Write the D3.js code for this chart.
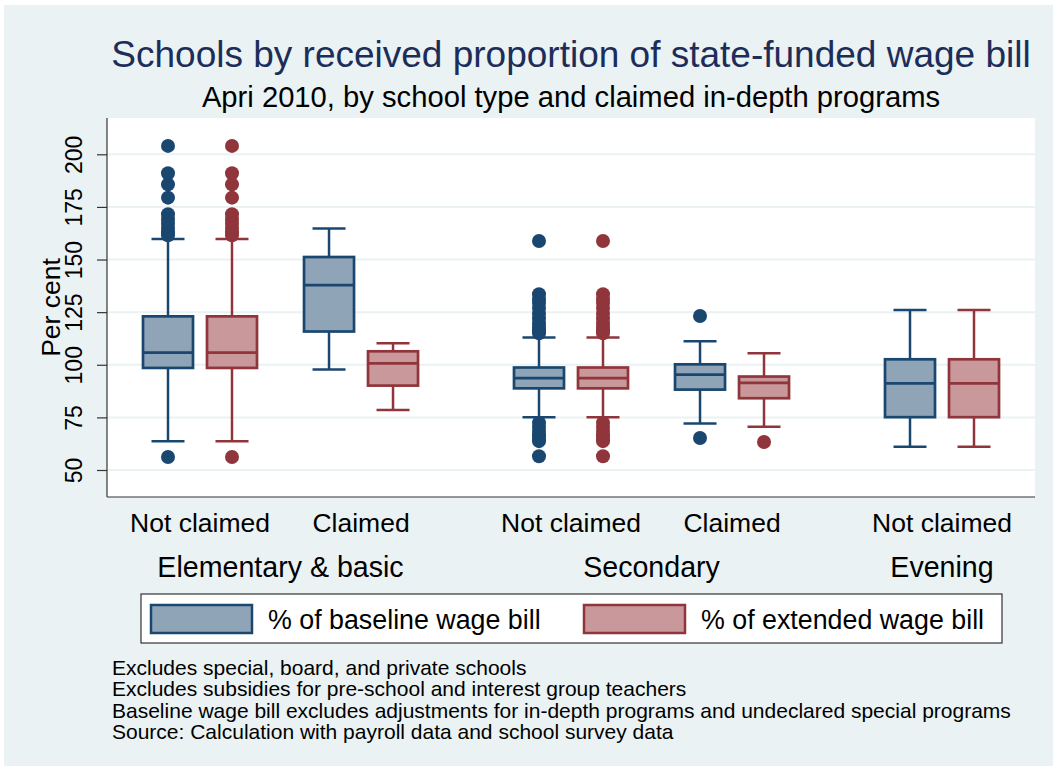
<!DOCTYPE html>
<html>
<head>
<meta charset="utf-8">
<title>Schools by received proportion of state-funded wage bill</title>
<script src="https://cdn.jsdelivr.net/npm/d3@7"></script>
<style>
    html, body { margin: 0; padding: 0; background: #ffffff; }
    svg { display: block; font-family: "Liberation Sans", Arial, sans-serif; }
</style>
</head>
<body>
<div id="chart"></div>
<script>
;(function (d3, window, document, undefined) {

	'use strict';

    // --- data ---
    var groups = ['Elementary & basic', 'Secondary', 'Evening'];
    var catLabels = ['Not claimed', 'Claimed', 'Not claimed', 'Claimed', 'Not claimed'];
    var catGroup = [0, 0, 1, 1, 2];
    var series = ['% of baseline wage bill', '% of extended wage bill'];
    var yTicks = [50, 75, 100, 125, 150, 175, 200];

    // [lower whisker, q1, median, q3, upper whisker] per category
    var baseStats = [
        [63.7, 98.5, 105.8, 123.0, 159.8],
        [97.7, 115.8, 137.8, 151.2, 164.7],
        [75.1, 88.8, 93.7, 98.7, 112.9],
        [72.1, 88.2, 95.3, 100.2, 111.2],
        [61.0, 75.1, 91.2, 102.6, 126.0]
    ];
    var extStats = [
        [63.7, 98.5, 105.8, 123.0, 159.8],
        [78.5, 90.1, 100.7, 106.4, 110.2],
        [75.1, 88.8, 93.7, 98.7, 112.9],
        [70.5, 84.1, 91.4, 94.4, 105.5],
        [61.0, 75.1, 91.2, 102.6, 126.0]
    ];
    var baseOutliers = [
        [204, 191, 185.7, 179.4, 171.5, 169, 167, 165, 163, 161.5, 56.2],
        [],
        [158.8, 133.5, 131, 129.4, 127, 124.3, 122, 119.6, 118, 116.4, 115, 72.5, 70.5, 68.5, 66.5, 65, 63.7, 56.5],
        [123.2, 65.2],
        []
    ];
    var extOutliers = [
        [204, 191, 185.7, 179.4, 171.5, 169, 167, 165, 163, 161.5, 56.2],
        [],
        [158.8, 133.5, 131, 129.4, 127, 124.3, 122, 119.6, 118, 116.4, 115, 72.5, 70.5, 68.5, 66.5, 65, 63.7, 56.5],
        [63.3],
        []
    ];
    var notes = [
        'Excludes special, board, and private schools',
        'Excludes subsidies for pre-school and interest group teachers',
        'Baseline wage bill excludes adjustments for in-depth programs and undeclared special programs',
        'Source: Calculation with payroll data and school survey data'
    ];

    var stroke = ['#1a476f', '#90353b'];
    var fill = ['#90a4b8', '#c8989b'];
    var bgColor = '#eaf2f3';

    var width = 1057, height = 771;
    var plot = { left: 107, right: 1035, top: 118, bottom: 497 };
    var groupGap = 0.304;    // extra slot space between school types
    var boxW = 50, capW = 33, dotR = 7;

    var svg = d3.select('#chart').append('svg')
        .attr('width', width)
        .attr('height', height);

    svg.append('rect')
        .attr('x', 4).attr('y', 5)
        .attr('width', width - 8).attr('height', height - 10)
        .attr('fill', bgColor);

    svg.append('rect')
        .attr('x', plot.left).attr('y', plot.top)
        .attr('width', plot.right - plot.left).attr('height', plot.bottom - plot.top)
        .attr('fill', '#ffffff');

    // scales
    var y = d3.scaleLinear().domain([50, 200]).range([470, 154.3]);
    var slot = catLabels.map(function (d, i) { return i + groupGap * catGroup[i]; });
    var x = d3.scaleLinear().domain([0, d3.max(slot)]).range([200, 942]);
    var inner = d3.scalePoint().domain(series).range([-32, 32]);

    // grid
    svg.append('g').selectAll('line')
        .data(yTicks).enter().append('line')
        .attr('x1', plot.left).attr('x2', plot.right)
        .attr('y1', function (d) { return y(d); })
        .attr('y2', function (d) { return y(d); })
        .attr('stroke', bgColor)
        .attr('stroke-width', 2);

    // y axis
    var yAxis = svg.append('g')
        .attr('transform', 'translate(' + plot.left + ',0)')
        .call(d3.axisLeft(y).tickValues(yTicks).tickSize(10).tickPadding(0));
    yAxis.select('.domain').remove();
    yAxis.selectAll('.tick line').attr('stroke', '#333').attr('stroke-width', 1.2);
    yAxis.selectAll('.tick text')
        .attr('transform', 'rotate(-90)')
        .attr('x', 0).attr('y', -25).attr('dy', 0)
        .attr('text-anchor', 'middle')
        .attr('fill', '#000')
        .style('font-size', '23px')
        .style('font-family', '"Liberation Sans", Arial, sans-serif');

    svg.append('text')
        .attr('transform', 'translate(60,' + ((plot.top + plot.bottom) / 2) + ') rotate(-90)')
        .attr('text-anchor', 'middle')
        .style('font-size', '26.5px')
        .text('Per cent');

    // axis lines
    svg.append('line')
        .attr('x1', plot.left).attr('x2', plot.left)
        .attr('y1', plot.top).attr('y2', plot.bottom)
        .attr('stroke', '#333').attr('stroke-width', 1.2);
    svg.append('line')
        .attr('x1', plot.left).attr('x2', plot.right)
        .attr('y1', plot.bottom).attr('y2', plot.bottom)
        .attr('stroke', '#333').attr('stroke-width', 1.2);

    // boxes
    var allStats = [baseStats, extStats];
    var allOut = [baseOutliers, extOutliers];

    series.forEach(function (s, si) {
        var g = svg.append('g').attr('class', 'series-' + si);
        allStats[si].forEach(function (st, ci) {
            var cx = x(slot[ci]) + inner(s);
            var b = g.append('g');
            // whiskers
            b.append('line')
                .attr('x1', cx).attr('x2', cx)
                .attr('y1', y(st[0])).attr('y2', y(st[1]))
                .attr('stroke', stroke[si]).attr('stroke-width', 2.5);
            b.append('line')
                .attr('x1', cx).attr('x2', cx)
                .attr('y1', y(st[3])).attr('y2', y(st[4]))
                .attr('stroke', stroke[si]).attr('stroke-width', 2.5);
            [st[0], st[4]].forEach(function (v) {
                b.append('line')
                    .attr('x1', cx - capW / 2).attr('x2', cx + capW / 2)
                    .attr('y1', y(v)).attr('y2', y(v))
                    .attr('stroke', stroke[si]).attr('stroke-width', 2.5);
            });
            // box
            b.append('rect')
                .attr('x', cx - boxW / 2).attr('width', boxW)
                .attr('y', y(st[3])).attr('height', y(st[1]) - y(st[3]))
                .attr('fill', fill[si])
                .attr('stroke', stroke[si]).attr('stroke-width', 2.7);
            b.append('line')
                .attr('x1', cx - boxW / 2).attr('x2', cx + boxW / 2)
                .attr('y1', y(st[2])).attr('y2', y(st[2]))
                .attr('stroke', stroke[si]).attr('stroke-width', 2.7);
            // outside values
            b.selectAll('circle')
                .data(allOut[si][ci]).enter().append('circle')
                .attr('cx', cx)
                .attr('cy', function (d) { return y(d); })
                .attr('r', dotR)
                .attr('fill', stroke[si]);
        });
    });

    // category and group labels
    svg.append('g').selectAll('text')
        .data(catLabels).enter().append('text')
        .attr('x', function (d, i) { return x(slot[i]); })
        .attr('y', 532)
        .attr('text-anchor', 'middle')
        .style('font-size', '26.5px')
        .text(function (d) { return d; });

    svg.append('g').selectAll('text')
        .data(groups).enter().append('text')
        .attr('x', function (d, gi) {
            var xs = slot.filter(function (s, i) { return catGroup[i] === gi; }).map(x);
            return d3.mean(xs);
        })
        .attr('y', 577)
        .attr('text-anchor', 'middle')
        .style('font-size', '28.6px')
        .text(function (d) { return d; });

    // titles
    var midX = (plot.left + plot.right) / 2;
    svg.append('text')
        .attr('x', midX).attr('y', 67)
        .attr('text-anchor', 'middle')
        .attr('fill', '#1c2d5a')
        .style('font-size', '37px')
        .text('Schools by received proportion of state-funded wage bill');
    svg.append('text')
        .attr('x', midX).attr('y', 107)
        .attr('text-anchor', 'middle')
        .style('font-size', '29.2px')
        .text('Apri 2010, by school type and claimed in-depth programs');

    // legend
    var legend = svg.append('g');
    legend.append('rect')
        .attr('x', 141).attr('y', 594)
        .attr('width', 861).attr('height', 49)
        .attr('fill', '#ffffff')
        .attr('stroke', '#333').attr('stroke-width', 1.2);
    var legX = [151, 584];
    series.forEach(function (s, si) {
        legend.append('rect')
            .attr('x', legX[si]).attr('y', 605)
            .attr('width', 101).attr('height', 28)
            .attr('fill', fill[si])
            .attr('stroke', stroke[si]).attr('stroke-width', 2.5);
        legend.append('text')
            .attr('x', legX[si] + 117).attr('y', 628.5)
            .style('font-size', '26.8px')
            .text(s);
    });

    // notes
    svg.append('g').selectAll('text')
        .data(notes).enter().append('text')
        .attr('x', 112)
        .attr('y', function (d, i) { return 675 + i * 21.3; })
        .style('font-size', '21px')
        .text(function (d) { return d; });

})(d3, window, document);
</script>
</body>
</html>
